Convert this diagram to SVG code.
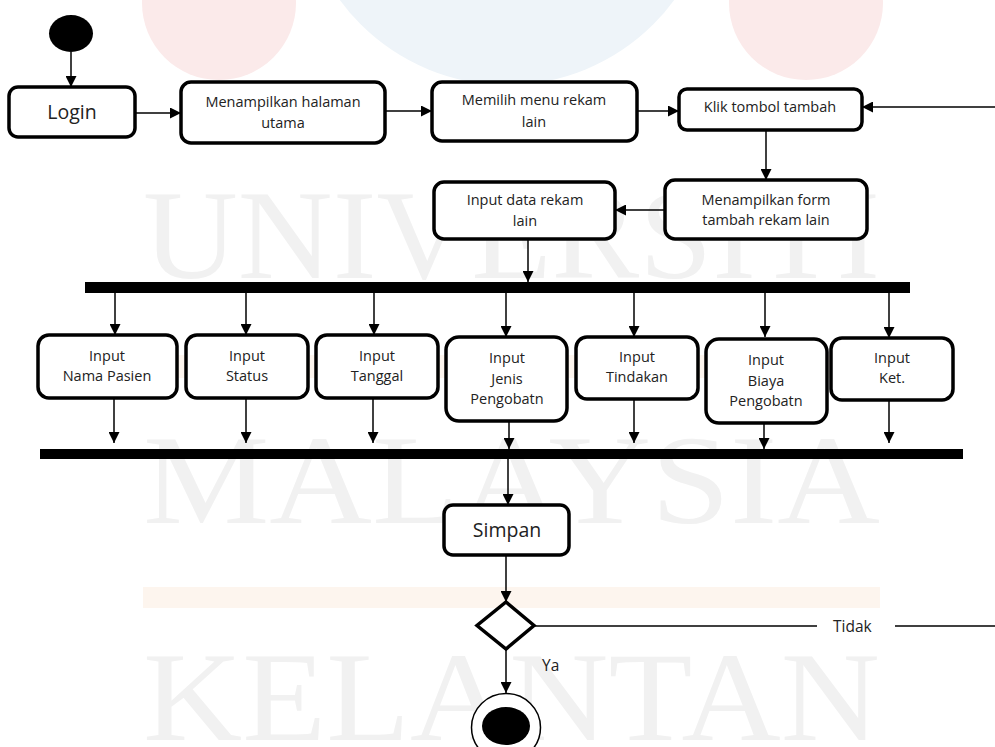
<svg xmlns="http://www.w3.org/2000/svg" width="995" height="747" viewBox="0 0 995 747">
<defs>
<marker id="arr" markerUnits="userSpaceOnUse" markerWidth="11" markerHeight="11" refX="11" refY="5.5" orient="auto">
<path d="M0,0 L11,5.5 L0,11 z" fill="#000"/>
</marker>
<style>
.box{fill:#fff;stroke:#000;stroke-width:3.5}
.t{font-family:"Open Sans","Noto Sans",sans-serif;font-size:14.5px;fill:#222;text-anchor:middle}
.big{font-size:19.5px}
.lbl{font-family:"Open Sans","Noto Sans",sans-serif;font-size:15.5px;fill:#222}
.c{fill:none;stroke:#000;stroke-width:1.5}
.ca{fill:none;stroke:#000;stroke-width:1.5;marker-end:url(#arr)}
.wm{font-family:"Liberation Serif",serif;font-size:128px;fill:#f1f1f1}
</style>
</defs>
<rect width="995" height="747" fill="#fff"/>
<g id="watermark">
<circle cx="507" cy="-122" r="207" fill="#eef4f9"/>
<circle cx="219" cy="3" r="77" fill="#fbeaea"/>
<circle cx="806" cy="3" r="77" fill="#fbeaea"/>
<rect x="143" y="355" width="737" height="23" fill="#fdf5ee"/>
<rect x="143" y="587" width="737" height="21" fill="#fdf5ee"/>
<text class="wm" x="143" y="278" textLength="737" lengthAdjust="spacingAndGlyphs">UNIVERSITI</text>
<text class="wm" x="143" y="523" textLength="737" lengthAdjust="spacingAndGlyphs">MALAYSIA</text>
<text class="wm" x="143" y="740" textLength="737" lengthAdjust="spacingAndGlyphs">KELANTAN</text>
</g>
<g id="connectors">
<line class="ca" x1="71" y1="52" x2="71" y2="87"/>
<line class="ca" x1="135" y1="113" x2="181" y2="113"/>
<line class="ca" x1="385" y1="111" x2="432" y2="111"/>
<line class="ca" x1="637" y1="111" x2="679" y2="111"/>
<line class="ca" x1="995" y1="107" x2="862" y2="107"/>
<line class="ca" x1="766" y1="130" x2="766" y2="180"/>
<line class="ca" x1="665" y1="210" x2="615" y2="210"/>
<line class="ca" x1="528" y1="239" x2="528" y2="282"/>
<line class="ca" x1="115" y1="293" x2="115" y2="335"/>
<line class="ca" x1="246" y1="293" x2="246" y2="335"/>
<line class="ca" x1="374" y1="293" x2="374" y2="335"/>
<line class="ca" x1="506" y1="293" x2="506" y2="337"/>
<line class="ca" x1="634" y1="293" x2="634" y2="337"/>
<line class="ca" x1="765" y1="293" x2="765" y2="337"/>
<line class="ca" x1="889" y1="293" x2="889" y2="338"/>
<line class="ca" x1="114" y1="398" x2="114" y2="443"/>
<line class="ca" x1="246" y1="398" x2="246" y2="443"/>
<line class="ca" x1="373" y1="398" x2="373" y2="443"/>
<line class="ca" x1="509" y1="421" x2="509" y2="449"/>
<line class="ca" x1="634" y1="399" x2="634" y2="443"/>
<line class="ca" x1="764" y1="423" x2="764" y2="449"/>
<line class="ca" x1="889" y1="400" x2="889" y2="443"/>
<line class="ca" x1="508" y1="459" x2="508" y2="505"/>
<line class="ca" x1="506" y1="555" x2="506" y2="602"/>
<line class="c" x1="534" y1="626" x2="817" y2="626"/>
<line class="c" x1="895" y1="626" x2="995" y2="626"/>
<line class="ca" x1="506" y1="649" x2="506" y2="693"/>
<text class="lbl" x="833" y="631.5">Tidak</text>
<text class="lbl" x="542" y="670.5">Ya</text>
</g>
<g id="start"><ellipse cx="71" cy="33.5" rx="22" ry="18.5" fill="#000"/></g>
<g id="login"><rect class="box" x="9" y="87" width="126" height="50" rx="9"/><text class="t big" x="72" y="119">Login</text></g>
<g id="halaman"><rect class="box" x="181" y="82" width="204" height="61" rx="10"/><text class="t" x="283" y="107">Menampilkan halaman</text><text class="t" x="283" y="128">utama</text></g>
<g id="memilih"><rect class="box" x="432" y="82" width="205" height="59" rx="10"/><text class="t" x="534" y="105">Memilih menu rekam</text><text class="t" x="534" y="127">lain</text></g>
<g id="klik"><rect class="box" x="679" y="89" width="183" height="41" rx="8"/><text class="t" x="770" y="112">Klik tombol tambah</text></g>
<g id="form"><rect class="box" x="665" y="180" width="202" height="59" rx="10"/><text class="t" x="766" y="205">Menampilkan form</text><text class="t" x="766" y="225">tambah rekam lain</text></g>
<g id="inputdata"><rect class="box" x="434" y="182" width="181" height="57" rx="10"/><text class="t" x="525" y="205">Input data rekam</text><text class="t" x="525" y="226">lain</text></g>
<g id="fork"><rect x="85" y="282" width="825" height="11" fill="#000"/></g>
<g id="nama"><rect class="box" x="38" y="335" width="139" height="63" rx="11"/><text class="t" x="107" y="361">Input</text><text class="t" x="107" y="381">Nama Pasien</text></g>
<g id="status"><rect class="box" x="186" y="335" width="122" height="63" rx="11"/><text class="t" x="247" y="361">Input</text><text class="t" x="247" y="381">Status</text></g>
<g id="tanggal"><rect class="box" x="316" y="335" width="122" height="63" rx="11"/><text class="t" x="377" y="361">Input</text><text class="t" x="377" y="381">Tanggal</text></g>
<g id="jenis"><rect class="box" x="446" y="337" width="121" height="84" rx="13"/><text class="t" x="507" y="363">Input</text><text class="t" x="507" y="384">Jenis</text><text class="t" x="507" y="404">Pengobatn</text></g>
<g id="tindakan"><rect class="box" x="576" y="337" width="122" height="62" rx="11"/><text class="t" x="637" y="362">Input</text><text class="t" x="637" y="382">Tindakan</text></g>
<g id="biaya"><rect class="box" x="706" y="339" width="121" height="84" rx="13"/><text class="t" x="766" y="365">Input</text><text class="t" x="766" y="386">Biaya</text><text class="t" x="766" y="406">Pengobatn</text></g>
<g id="ket"><rect class="box" x="831" y="338" width="122" height="62" rx="11"/><text class="t" x="892" y="363">Input</text><text class="t" x="892" y="383">Ket.</text></g>
<g id="join"><rect x="40" y="449" width="923" height="10" fill="#000"/></g>
<g id="simpan"><rect class="box" x="444" y="505" width="125" height="50" rx="9"/><text class="t big" x="507" y="537">Simpan</text></g>
<g id="decision"><path d="M506,602 L534,625.5 L506,649 L477,625.5 z" fill="#fff" stroke="#000" stroke-width="3.5"/></g>
<g id="end"><ellipse cx="506" cy="727.5" rx="34.5" ry="34" fill="#fff" stroke="#000" stroke-width="1.5"/><ellipse cx="506" cy="726" rx="24" ry="19" fill="#000"/></g>
</svg>
